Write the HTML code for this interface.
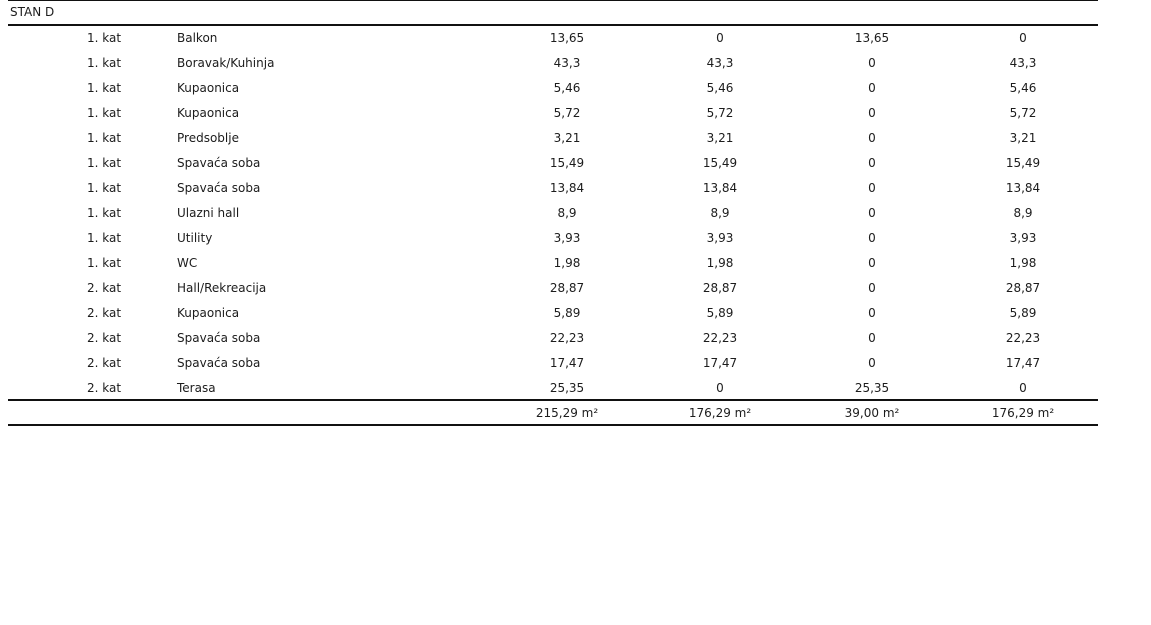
<!DOCTYPE html>
<html>
<head>
<meta charset="utf-8">
<style>
html,body{margin:0;padding:0;background:#fff;}
body{width:1151px;height:625px;position:relative;overflow:hidden;font-family:"DejaVu Sans","Liberation Sans",sans-serif;font-size:12px;color:#1c1c1c;}
.ln{position:absolute;left:8px;width:1090px;height:2px;background:#111;}
.r{position:absolute;left:0;width:1151px;height:25px;line-height:25px;}
.r span{position:absolute;top:0;white-space:nowrap;}
.k{left:64px;width:80px;text-align:center;}
.n{left:177px;}
.c1{left:507px;width:120px;text-align:center;}
.c2{left:660px;width:120px;text-align:center;}
.c3{left:812px;width:120px;text-align:center;}
.c4{left:963px;width:120px;text-align:center;}
</style>
</head>
<body>
<div class="ln" style="top:0;height:1px;"></div>
<div style="position:absolute;left:10px;top:0;line-height:24px;">STAN D</div>
<div class="ln" style="top:24px;"></div>

<div class="r" style="top:26px"><span class="k">1. kat</span><span class="n">Balkon</span><span class="c1">13,65</span><span class="c2">0</span><span class="c3">13,65</span><span class="c4">0</span></div>
<div class="r" style="top:51px"><span class="k">1. kat</span><span class="n">Boravak/Kuhinja</span><span class="c1">43,3</span><span class="c2">43,3</span><span class="c3">0</span><span class="c4">43,3</span></div>
<div class="r" style="top:76px"><span class="k">1. kat</span><span class="n">Kupaonica</span><span class="c1">5,46</span><span class="c2">5,46</span><span class="c3">0</span><span class="c4">5,46</span></div>
<div class="r" style="top:101px"><span class="k">1. kat</span><span class="n">Kupaonica</span><span class="c1">5,72</span><span class="c2">5,72</span><span class="c3">0</span><span class="c4">5,72</span></div>
<div class="r" style="top:126px"><span class="k">1. kat</span><span class="n">Predsoblje</span><span class="c1">3,21</span><span class="c2">3,21</span><span class="c3">0</span><span class="c4">3,21</span></div>
<div class="r" style="top:151px"><span class="k">1. kat</span><span class="n">Spavaća soba</span><span class="c1">15,49</span><span class="c2">15,49</span><span class="c3">0</span><span class="c4">15,49</span></div>
<div class="r" style="top:176px"><span class="k">1. kat</span><span class="n">Spavaća soba</span><span class="c1">13,84</span><span class="c2">13,84</span><span class="c3">0</span><span class="c4">13,84</span></div>
<div class="r" style="top:201px"><span class="k">1. kat</span><span class="n">Ulazni hall</span><span class="c1">8,9</span><span class="c2">8,9</span><span class="c3">0</span><span class="c4">8,9</span></div>
<div class="r" style="top:226px"><span class="k">1. kat</span><span class="n">Utility</span><span class="c1">3,93</span><span class="c2">3,93</span><span class="c3">0</span><span class="c4">3,93</span></div>
<div class="r" style="top:251px"><span class="k">1. kat</span><span class="n">WC</span><span class="c1">1,98</span><span class="c2">1,98</span><span class="c3">0</span><span class="c4">1,98</span></div>
<div class="r" style="top:276px"><span class="k">2. kat</span><span class="n">Hall/Rekreacija</span><span class="c1">28,87</span><span class="c2">28,87</span><span class="c3">0</span><span class="c4">28,87</span></div>
<div class="r" style="top:301px"><span class="k">2. kat</span><span class="n">Kupaonica</span><span class="c1">5,89</span><span class="c2">5,89</span><span class="c3">0</span><span class="c4">5,89</span></div>
<div class="r" style="top:326px"><span class="k">2. kat</span><span class="n">Spavaća soba</span><span class="c1">22,23</span><span class="c2">22,23</span><span class="c3">0</span><span class="c4">22,23</span></div>
<div class="r" style="top:351px"><span class="k">2. kat</span><span class="n">Spavaća soba</span><span class="c1">17,47</span><span class="c2">17,47</span><span class="c3">0</span><span class="c4">17,47</span></div>
<div class="r" style="top:376px"><span class="k">2. kat</span><span class="n">Terasa</span><span class="c1">25,35</span><span class="c2">0</span><span class="c3">25,35</span><span class="c4">0</span></div>

<div class="ln" style="top:399px;"></div>
<div class="r" style="top:401px"><span class="c1">215,29 m²</span><span class="c2">176,29 m²</span><span class="c3">39,00 m²</span><span class="c4">176,29 m²</span></div>
<div class="ln" style="top:424px;"></div>
</body>
</html>
